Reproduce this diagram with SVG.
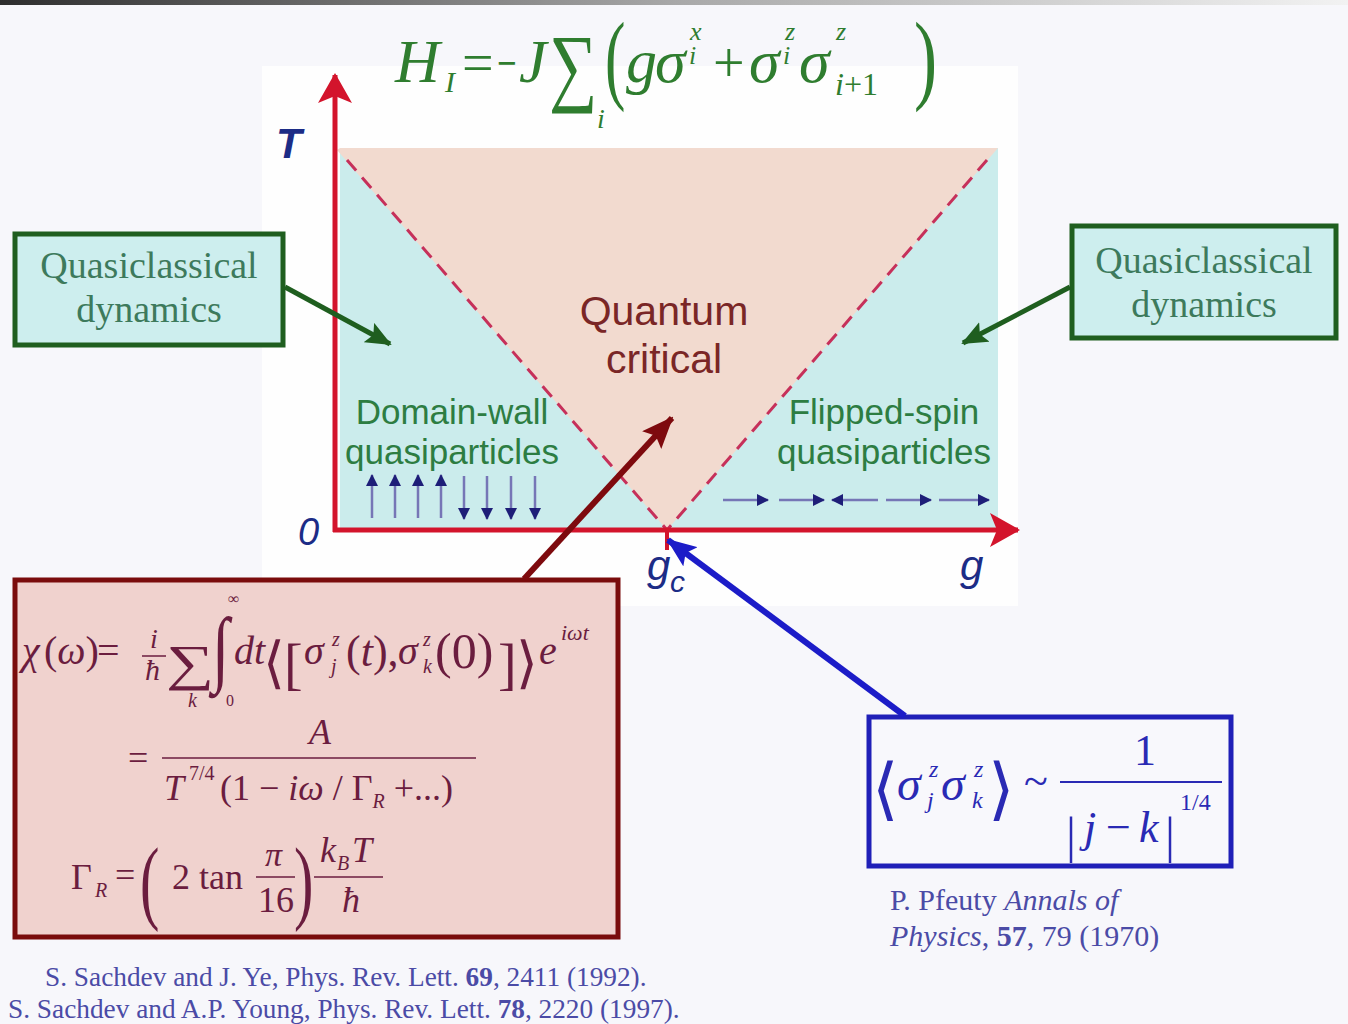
<svg xmlns="http://www.w3.org/2000/svg" width="1348" height="1024" viewBox="0 0 1348 1024">
<defs>
<linearGradient id="topbar" x1="0" x2="1" y1="0" y2="0">
<stop offset="0" stop-color="#2e2e2e"/>
<stop offset="0.5" stop-color="#a8a8a8"/>
<stop offset="1" stop-color="#f2f2f2"/>
</linearGradient>
<marker id="axisHead" viewBox="0 0 30 34" refX="28" refY="17" markerWidth="30" markerHeight="34" markerUnits="userSpaceOnUse" orient="auto">
<path d="M0,0 L30,17 L0,34 L7,17 z" fill="#d3142c"/>
</marker>
<marker id="greenHead" viewBox="0 0 26 22" refX="24" refY="11" markerWidth="26" markerHeight="22" markerUnits="userSpaceOnUse" orient="auto">
<path d="M0,0 L26,11 L0,22 L5,11 z" fill="#1f5e1f"/>
</marker>
<marker id="redHead" viewBox="0 0 32 26" refX="30" refY="13" markerWidth="32" markerHeight="26" markerUnits="userSpaceOnUse" orient="auto">
<path d="M0,0 L32,13 L0,26 L6,13 z" fill="#7e0a0e"/>
</marker>
<marker id="blueHead" viewBox="0 0 30 24" refX="28" refY="12" markerWidth="30" markerHeight="24" markerUnits="userSpaceOnUse" orient="auto">
<path d="M0,0 L30,12 L0,24 L6,12 z" fill="#1c1cc8"/>
</marker>
<marker id="spinHead" viewBox="0 0 12 12" refX="11" refY="6" markerWidth="12" markerHeight="12" markerUnits="userSpaceOnUse" orient="auto">
<path d="M0,0 L12,6 L0,12 z" fill="#1e1e78"/>
</marker>
</defs>
<style>
.serif{font-family:"Liberation Serif","Times New Roman",serif}
.sans{font-family:"Liberation Sans",Arial,sans-serif}
.it{font-style:italic}
.up{font-style:normal}
.eqG{fill:#2f7d2f}
.eqR{fill:#6b1d3f}
.eqB{fill:#2a2ab4}
.qc{font-family:"Liberation Serif",serif;font-size:38px;fill:#3d7a5c;text-anchor:middle}
.region{font-family:"Liberation Sans",Arial,sans-serif;font-size:35px;fill:#2d7d42;text-anchor:middle}
.crit{font-family:"Liberation Sans",Arial,sans-serif;font-size:41px;fill:#7a2626;text-anchor:middle}
.axislbl{font-family:"Liberation Sans",Arial,sans-serif;font-style:italic;fill:#1c2c86}
.spin{stroke:#7676b6;stroke-width:2.5;marker-end:url(#spinHead)}
.ref{font-family:"Liberation Serif",serif;fill:#4b4ba6}
.brk{font-family:"DejaVu Serif",serif}
.dash{stroke:#c6305a;stroke-width:3;stroke-dasharray:14,9}
</style>

<rect x="0" y="0" width="1348" height="1024" fill="#f7f7fb"/>
<rect x="0" y="0" width="1348" height="5" fill="url(#topbar)"/>
<rect x="262" y="66" width="756" height="540" fill="#fefefe"/>

<!-- Hamiltonian -->
<g id="hamiltonian" class="serif eqG">
<text x="395" y="82" font-size="62" class="it">H</text>
<text x="445" y="92" font-size="30" class="it">I</text>
<text x="462" y="82" font-size="56">=</text>
<text transform="translate(497,82) scale(0.62,1)" font-size="56">−</text>
<text x="519" y="82" font-size="62" class="it">J</text>
<text transform="translate(549,95) scale(0.78,1)" font-size="87">∑</text>
<text x="597" y="128" font-size="28" class="it">i</text>
<text transform="translate(605,91) scale(0.62,1)" font-size="99">(</text>
<text x="626" y="82" font-size="62" class="it">g</text>
<text x="655" y="82" font-size="62" class="it">σ</text>
<text x="690" y="40" font-size="26" class="it">x</text>
<text x="689" y="64" font-size="26" class="it">i</text>
<text x="713" y="82" font-size="56">+</text>
<text x="749" y="82" font-size="62" class="it">σ</text>
<text x="785" y="40" font-size="26" class="it">z</text>
<text x="783" y="64" font-size="26" class="it">i</text>
<text x="799" y="82" font-size="62" class="it">σ</text>
<text x="836" y="40" font-size="26" class="it">z</text>
<text x="835" y="95" font-size="32" class="it">i<tspan class="up">+1</tspan></text>
<text transform="translate(914,91) scale(0.7,1)" font-size="99">)</text>
</g>

<!-- Phase diagram -->
<g id="phase-diagram">
<rect x="340" y="148" width="658" height="381" fill="#cbecec"/>
<polygon points="340,148 998,148 667,530 337,150" fill="#f2dacf"/>
<line class="dash" x1="347" y1="160" x2="667" y2="530"/>
<line class="dash" x1="987" y1="160" x2="667" y2="530"/>
<line x1="335" y1="532" x2="335" y2="75" stroke="#d3142c" stroke-width="5" marker-end="url(#axisHead)"/>
<line x1="333" y1="530" x2="1018" y2="530" stroke="#d3142c" stroke-width="5" marker-end="url(#axisHead)"/>
<line x1="667" y1="530" x2="667" y2="550" stroke="#d3142c" stroke-width="4"/>
</g>

<g id="axis-labels">
<text x="276" y="158" font-size="42" font-weight="bold" class="axislbl">T</text>
<text x="298" y="545" font-size="38" class="axislbl">0</text>
<text x="960" y="580" font-size="42" class="axislbl">g</text>
<text x="647" y="580" font-size="42" class="axislbl">g</text>
<text x="670" y="592" font-size="30" class="axislbl">c</text>
</g>

<g id="quantum-critical">
<text x="664" y="325" class="crit">Quantum</text>
<text x="664" y="373" class="crit">critical</text>
</g>

<g id="domain-wall">
<text x="452" y="424" class="region">Domain-wall</text>
<text x="452" y="464" class="region">quasiparticles</text>
<line class="spin" x1="372" y1="518" x2="372" y2="475"/>
<line class="spin" x1="395" y1="518" x2="395" y2="475"/>
<line class="spin" x1="418" y1="518" x2="418" y2="475"/>
<line class="spin" x1="441" y1="518" x2="441" y2="475"/>
<line class="spin" x1="464" y1="476" x2="464" y2="519"/>
<line class="spin" x1="487" y1="476" x2="487" y2="519"/>
<line class="spin" x1="511" y1="476" x2="511" y2="519"/>
<line class="spin" x1="535" y1="476" x2="535" y2="519"/>
</g>

<g id="flipped-spin">
<text x="884" y="424" class="region">Flipped-spin</text>
<text x="884" y="464" class="region">quasiparticles</text>
<line class="spin" x1="723" y1="500" x2="768" y2="500"/>
<line class="spin" x1="779" y1="500" x2="824" y2="500"/>
<line class="spin" x1="878" y1="500" x2="832" y2="500"/>
<line class="spin" x1="886" y1="500" x2="931" y2="500"/>
<line class="spin" x1="939" y1="500" x2="989" y2="500"/>
</g>

<g id="quasiclassical-left">
<rect x="15" y="234" width="268" height="111" fill="#cdeeee" stroke="#1f5e1f" stroke-width="5"/>
<text x="149" y="278" class="qc">Quasiclassical</text>
<text x="149" y="322" class="qc">dynamics</text>
</g>

<g id="quasiclassical-right">
<rect x="1072" y="226" width="264" height="112" fill="#cdeeee" stroke="#1f5e1f" stroke-width="5"/>
<text x="1204" y="273" class="qc">Quasiclassical</text>
<text x="1204" y="317" class="qc">dynamics</text>
</g>

<g id="susceptibility-box">
<rect x="15" y="580" width="603" height="357" fill="#f0d2ce" stroke="#7a0c0c" stroke-width="5"/>
<g class="serif eqR">
<text x="22" y="664" font-size="40" class="it">χ</text>
<text x="44" y="664" font-size="40">(<tspan class="it">ω</tspan>)</text>
<text x="97" y="664" font-size="40">=</text>
<text x="150" y="648" font-size="28" class="it">i</text>
<line x1="142" y1="656" x2="166" y2="656" stroke="#6b1d3f" stroke-width="1.5"/>
<text x="145" y="680" font-size="30" class="it">ħ</text>
<text transform="translate(166,680) scale(1.35,1)" font-size="50">∑</text>
<text x="188" y="707" font-size="20" class="it">k</text>
<text transform="translate(212,676) scale(0.75,1)" font-size="84">∫</text>
<text x="228" y="604" font-size="16">∞</text>
<text x="226" y="706" font-size="16">0</text>
<text x="234" y="664" font-size="40" class="it">dt</text>
<text x="263" y="682" font-size="56" class="brk">⟨</text>
<text x="284" y="683" font-size="56">[</text>
<text x="304" y="664" font-size="40" class="it">σ</text>
<text x="332" y="646" font-size="20" class="it">z</text>
<text x="331" y="673" font-size="20" class="it">j</text>
<text x="346" y="666" font-size="44">(<tspan class="it">t</tspan>),</text>
<text x="398" y="664" font-size="40" class="it">σ</text>
<text x="423" y="646" font-size="20" class="it">z</text>
<text x="423" y="673" font-size="20" class="it">k</text>
<text x="435" y="668" font-size="50">(0)</text>
<text x="498" y="683" font-size="56">]</text>
<text x="516" y="682" font-size="56" class="brk">⟩</text>
<text x="539" y="664" font-size="40" class="it">e</text>
<text x="561" y="640" font-size="22" class="it">iωt</text>

<text x="128" y="770" font-size="36">=</text>
<text x="309" y="744" font-size="36" class="it">A</text>
<line x1="162" y1="758" x2="476" y2="758" stroke="#6b1d3f" stroke-width="1.5"/>
<text x="164" y="800" font-size="36" class="it">T</text>
<text x="189" y="780" font-size="20">7/4</text>
<text x="220" y="800" font-size="36">(1 − <tspan class="it">iω</tspan> / Γ<tspan font-size="20" class="it" dy="8">R</tspan><tspan dy="-8"> +...)</tspan></text>

<text x="71" y="889" font-size="36">Γ</text>
<text x="95" y="897" font-size="20" class="it">R</text>
<text x="115" y="887" font-size="36">=</text>
<text transform="translate(140,912) scale(0.62,1)" font-size="94">(</text>
<text x="172" y="889" font-size="36">2 tan</text>
<text x="265" y="866" font-size="34" class="it">π</text>
<line x1="256" y1="877" x2="295" y2="877" stroke="#6b1d3f" stroke-width="1.5"/>
<text x="258" y="912" font-size="36">16</text>
<text transform="translate(294,912) scale(0.62,1)" font-size="94">)</text>
<text x="320" y="862" font-size="36" class="it">k</text>
<text x="337" y="870" font-size="20" class="it">B</text>
<text x="352" y="862" font-size="36" class="it">T</text>
<line x1="314" y1="877" x2="383" y2="877" stroke="#6b1d3f" stroke-width="1.5"/>
<text x="342" y="912" font-size="36" class="it">ħ</text>
</g>
</g>

<g id="correlation-box">
<rect x="869" y="717" width="362" height="149" fill="#f8f8fc" stroke="#2020b8" stroke-width="5"/>
<g class="serif eqB">
<text x="872" y="812" font-size="68" class="brk">⟨</text>
<text x="897" y="800" font-size="48" class="it">σ</text>
<text x="929" y="777" font-size="24" class="it">z</text>
<text x="927" y="808" font-size="24" class="it">j</text>
<text x="941" y="800" font-size="48" class="it">σ</text>
<text x="974" y="777" font-size="24" class="it">z</text>
<text x="972" y="808" font-size="24" class="it">k</text>
<text x="988" y="812" font-size="68" class="brk">⟩</text>
<text x="1024" y="796" font-size="44">~</text>
<text x="1134" y="765" font-size="44">1</text>
<line x1="1060" y1="782" x2="1222" y2="782" stroke="#2a2ab4" stroke-width="2"/>
<text x="1066" y="852" font-size="50">|</text>
<text x="1084" y="842" font-size="44" class="it">j</text>
<text x="1106" y="842" font-size="44">−</text>
<text x="1139" y="842" font-size="44" class="it">k</text>
<text x="1165" y="852" font-size="50">|</text>
<text x="1180" y="810" font-size="24">1/4</text>
</g>
</g>

<g id="pfeuty-ref" class="ref" font-size="30">
<text x="890" y="910">P. Pfeuty <tspan class="it">Annals of</tspan></text>
<text x="890" y="946"><tspan class="it">Physics</tspan>, <tspan font-weight="bold">57</tspan>, 79 (1970)</text>
</g>

<g id="sachdev-refs" class="ref" font-size="27.3">
<text x="45" y="986">S. Sachdev and J. Ye, Phys. Rev. Lett. <tspan font-weight="bold">69</tspan>, 2411 (1992).</text>
<text x="8" y="1018">S. Sachdev and A.P. Young, Phys. Rev. Lett. <tspan font-weight="bold">78</tspan>, 2220 (1997).</text>
</g>

<g id="connectors">
<line x1="285" y1="287" x2="390" y2="344" stroke="#1f5e1f" stroke-width="5" marker-end="url(#greenHead)"/>
<line x1="1070" y1="287" x2="963" y2="343" stroke="#1f5e1f" stroke-width="5" marker-end="url(#greenHead)"/>
<line x1="524" y1="579" x2="672" y2="418" stroke="#7e0a0e" stroke-width="6" marker-end="url(#redHead)"/>
<line x1="905" y1="716" x2="668" y2="540" stroke="#1c1cc8" stroke-width="6" marker-end="url(#blueHead)"/>
</g>
</svg>
